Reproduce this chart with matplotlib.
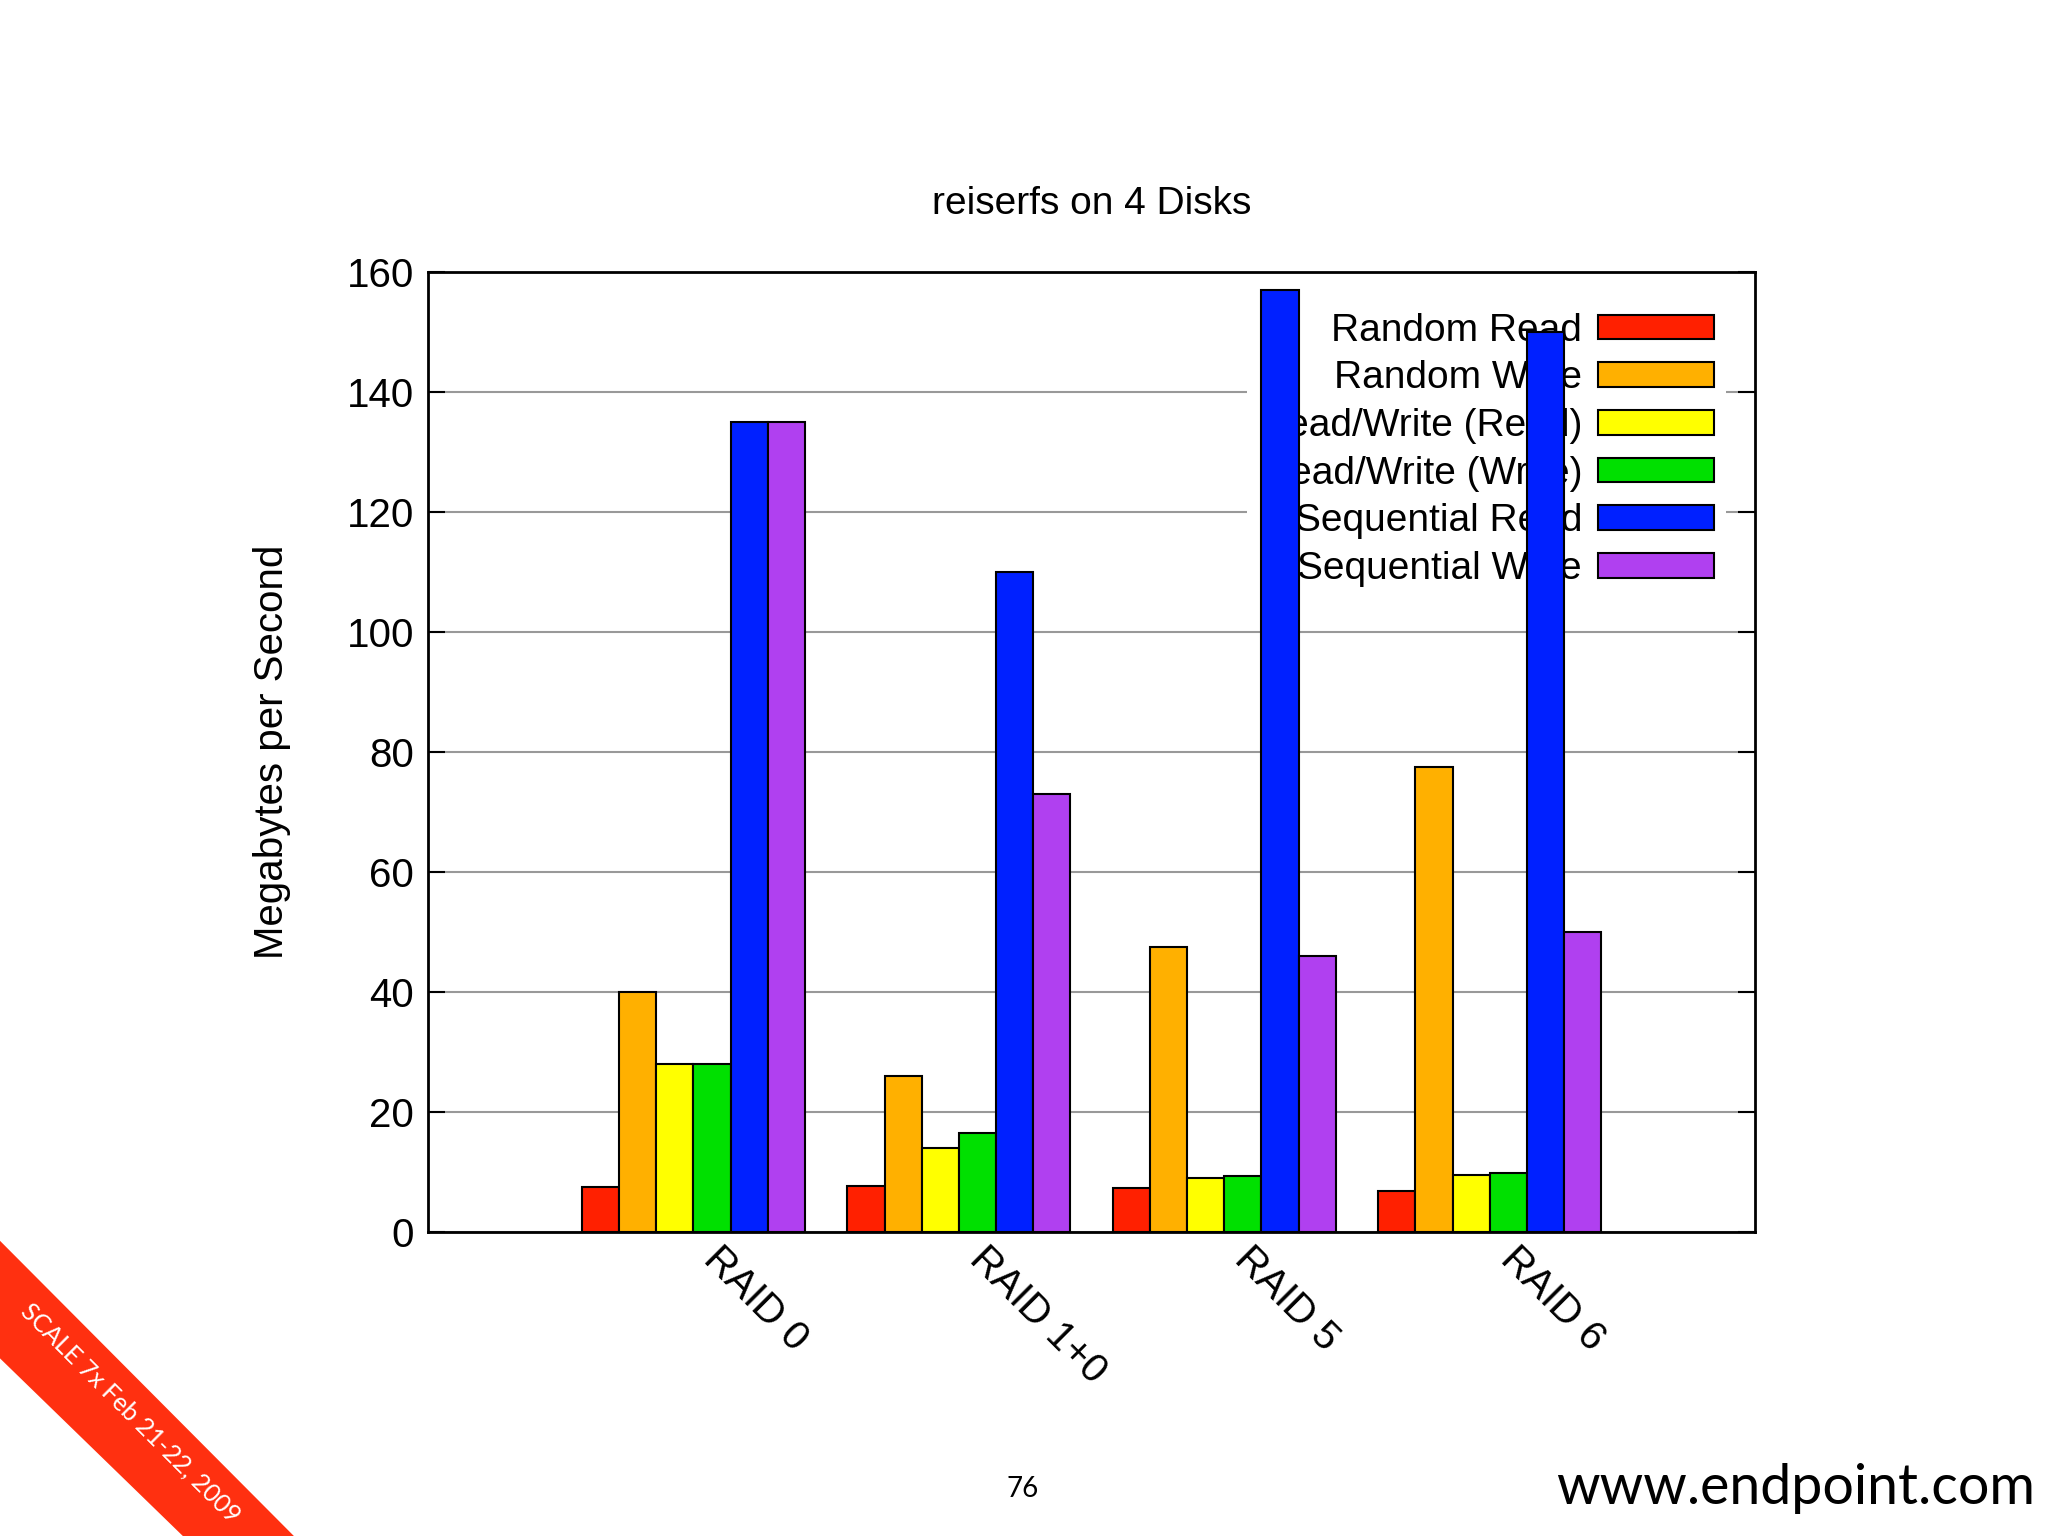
import matplotlib
matplotlib.use("Agg")
import matplotlib.pyplot as plt
import matplotlib.transforms as mtrans
import numpy as np
from matplotlib.patches import Polygon

plt.rcParams['font.family'] = ['Liberation Sans', 'DejaVu Sans']

categories = ["RAID 0", "RAID 1+0", "RAID 5", "RAID 6"]
series_names = ["Random Read", "Random Write", "Read/Write (Read)",
                "Read/Write (Write)", "Sequential Read", "Sequential Write"]
random_read = [7.5, 7.7, 7.3, 6.8]
random_write = [40, 26, 47.5, 77.5]
rw_read = [28, 14, 9, 9.5]
rw_write = [28, 16.5, 9.3, 9.8]
seq_read = [135, 110, 157, 150]
seq_write = [135, 73, 46, 50]
series = [random_read, random_write, rw_read, rw_write, seq_read, seq_write]
colors = ["#ff2000", "#ffb000", "#ffff00", "#00e000", "#0020ff", "#b040f0"]

fig = plt.figure(figsize=(20.48, 15.36), dpi=100)
ax = fig.add_axes([0.209, 0.198, 0.648, 0.625])

x = np.arange(1, len(categories) + 1)
w = 0.14
for i, (vals, c, name) in enumerate(zip(series, colors, series_names)):
    ax.bar(x + (i - 2.5) * w, vals, w, color=c, edgecolor="black",
           linewidth=1.5, label=name, zorder=3)

ax.set_xlim(0, 5)
ax.set_ylim(0, 160)
ax.set_yticks(range(0, 161, 20))
ax.yaxis.grid(True, color="#999999", linewidth=1.5, zorder=0)
ax.set_axisbelow(True)
ax.tick_params(axis='y', labelsize=29, right=True, direction='in', length=12,
               width=1.5, pad=10)
ax.tick_params(axis='x', length=0, labelsize=29, pad=6)
ax.set_xticks(x)
ax.set_xticklabels(categories, rotation=-45, ha='left', va='top',
                   rotation_mode='anchor')
off = mtrans.ScaledTranslation(0.3, 0, fig.dpi_scale_trans)
for lbl in ax.get_xticklabels():
    lbl.set_transform(lbl.get_transform() + off)
for s in ax.spines.values():
    s.set_linewidth(2)
ax.set_ylabel("Megabytes per Second", fontsize=29, labelpad=40)
ax.set_title("reiserfs on 4 Disks", fontsize=28, pad=42)

leg = ax.legend(loc='upper right', fontsize=28, markerfirst=False,
                frameon=True, framealpha=1, edgecolor='none', facecolor='white',
                handlelength=3.0, handleheight=0.6, labelspacing=0.3,
                borderaxespad=0.75, borderpad=0.3, handletextpad=0.4)
leg.set_zorder(2)
for t in leg.get_texts():
    t.set_ha('right')
for h in leg.legend_handles:
    h.set_edgecolor('black')
    h.set_linewidth(1.5)

W, H = 1568, 1176
def fc(px, py):
    return (px / W, 1 - py / H)
band = Polygon([fc(0, 950), fc(225, 1176), fc(140, 1176), fc(0, 1040)],
               closed=True, transform=fig.transFigure, facecolor="#ff3010",
               edgecolor='none')
fig.patches.append(band)
fig.text(*fc(100, 1082), "SCALE 7x Feb 21-22, 2009", rotation=-45,
         ha='center', va='center', color='white', fontsize=18,
         family=['Lato', 'DejaVu Sans'])
fig.text(*fc(783, 1140), "76", ha='center', va='center', fontsize=20,
         family=['Lato', 'DejaVu Sans'])
fig.text(*fc(1558, 1140), "www.endpoint.com", ha='right', va='center',
         fontsize=40, family=['Lato', 'DejaVu Sans'])

fig.savefig("out.png", dpi=100, facecolor='white')
